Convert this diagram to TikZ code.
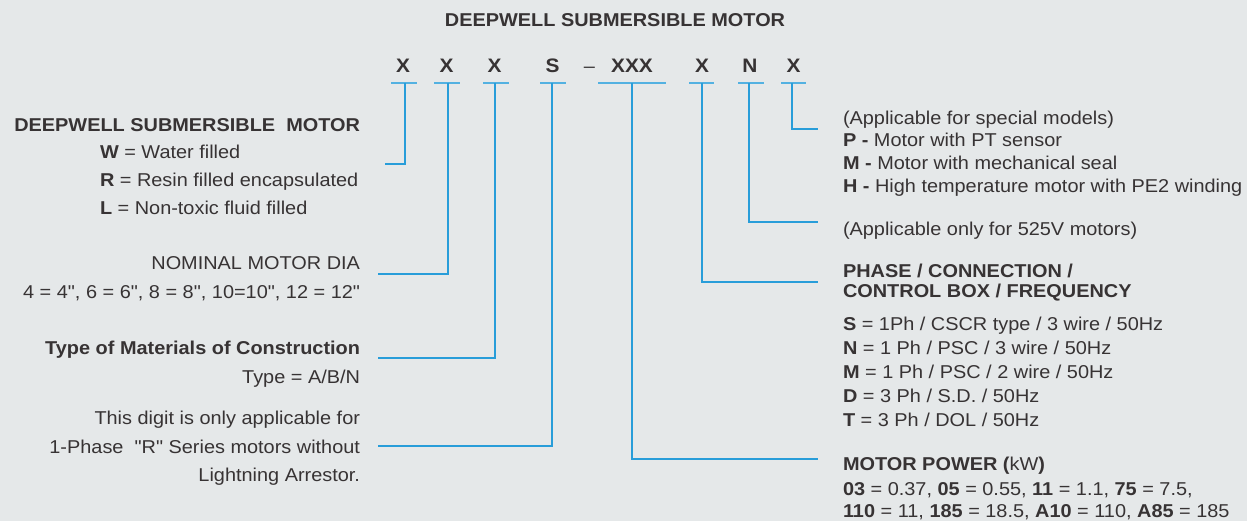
\documentclass[tikz,border=0pt]{standalone}
\usepackage{fontspec}
\setmainfont{Liberation Sans}[FakeStretch=1.07, Ligatures=TeXOff]
\definecolor{bg}{RGB}{229,232,233}
\definecolor{ink}{RGB}{55,51,52}
\definecolor{wire}{RGB}{40,157,217}
\newcommand\fsz{\fontsize{18.6}{23}\selectfont}
\tikzset{
  every node/.style={inner sep=0pt, outer sep=0pt, text=ink, font=\fsz},
  lt/.style={anchor=base west},
  rt/.style={anchor=base east},
  codel/.style={anchor=base, font=\fontsize{19.5}{23}\selectfont\bfseries},
  wireline/.style={draw=wire, line width=1.3pt},
  uline/.style={draw=wire!80, line width=1.3pt},
}
\begin{document}
\begin{tikzpicture}[x=1pt,y=-1pt]
\fill[bg] (0,0) rectangle (1247,521);
\useasboundingbox (0,0) rectangle (1247,521);

% title
\node[anchor=base, font=\fsz\bfseries] (title) at (615,26.5) {DEEPWELL SUBMERSIBLE MOTOR};

% code row
\node[codel] (c1) at (403,72.5) {X};
\node[codel] (c2) at (446.5,72.5) {X};
\node[codel] (c3) at (494.5,72.5) {X};
\node[codel] (c4) at (552.5,72.5) {S};
\node[anchor=base] (dash) at (589.5,72.5) {\textendash};
\node[codel] (c5) at (632,72.5) {XXX};
\node[codel] (c6) at (702,72.5) {X};
\node[codel] (c7) at (750,72.5) {N};
\node[codel] (c8) at (793.5,72.5) {X};

% underline ends
\coordinate (u1a) at (391,83);   \coordinate (u1b) at (417,83);
\coordinate (u2a) at (434,83);   \coordinate (u2b) at (460,83);
\coordinate (u3a) at (483,83);   \coordinate (u3b) at (509,83);
\coordinate (u4a) at (540,83);   \coordinate (u4b) at (566,83);
\coordinate (u5a) at (598,83);   \coordinate (u5b) at (666,83);
\coordinate (u6a) at (689,83);   \coordinate (u6b) at (714,83);
\coordinate (u7a) at (738,83);   \coordinate (u7b) at (764,83);
\coordinate (u8a) at (781,83);   \coordinate (u8b) at (806,83);
\foreach \i in {1,...,8} {\path[uline] (u\i a) -- (u\i b);}

% connector start points (on underlines)
\coordinate (s1) at (405,83);
\coordinate (s2) at (448,83);
\coordinate (s3) at (495,83);
\coordinate (s4) at (552,83);
\coordinate (s5) at (632,83);
\coordinate (s6) at (702,83);
\coordinate (s7) at (749,83);
\coordinate (s8) at (792,83);
% connector end points
\coordinate (e1) at (385,164);
\coordinate (e2) at (378,274);
\coordinate (e3) at (378,358);
\coordinate (e4) at (378,446);
\coordinate (e5) at (818,459);
\coordinate (e6) at (818,282);
\coordinate (e7) at (818,222);
\coordinate (e8) at (818,129);
\foreach \i in {1,...,8} {\path[wireline] (s\i) |- (e\i);}

% left block
\node[rt, font=\fsz\bfseries] (motor) at (360,131.5) {DEEPWELL SUBMERSIBLE\ \ MOTOR};
\node[lt] (w) at (100,158.5) {\textbf{W} = Water filled};
\node[lt] (r) at (100,186.5) {\textbf{R} = Resin filled encapsulated};
\node[lt] (l) at (100,214.5) {\textbf{L} = Non-toxic fluid filled};

\node[rt] (dia) at (360,269.5) {NOMINAL MOTOR DIA};
\node[rt] (diav) at (360,298.5) {4 = 4", 6 = 6", 8 = 8", 10=10", 12 = 12"};

\node[rt, font=\fsz\bfseries] (moc) at (360,354.5) {Type of Materials of Construction};
\node[rt] (mocv) at (360,383.5) {Type = A/B/N};

\node[rt] (dg1) at (360,424.5) {This digit is only applicable for};
\node[rt] (dg2) at (360,453.5) {1-Phase\ \ "R" Series motors without};
\node[rt] (dg3) at (360,481.5) {Lightning Arrestor.};

% right block
\node[lt] (sp0) at (843,124.5) {(Applicable for special models)};
\node[lt] (sp1) at (843,147) {\textbf{P -} Motor with PT sensor};
\node[lt] (sp2) at (843,170) {\textbf{M -} Motor with mechanical seal};
\node[lt] (sp3) at (843,193) {\textbf{H -} High temperature motor with PE2 winding};

\node[lt] (v525) at (843,235.5) {(Applicable only for 525V motors)};

\node[lt, font=\fsz\bfseries] (ph1) at (843,277.5) {PHASE / CONNECTION /};
\node[lt, font=\fsz\bfseries] (ph2) at (843,298) {CONTROL BOX / FREQUENCY};
\node[lt] (phS) at (843,330.5) {\textbf{S} = 1Ph / CSCR type / 3 wire / 50Hz};
\node[lt] (phN) at (843,354.5) {\textbf{N} = 1 Ph / PSC / 3 wire / 50Hz};
\node[lt] (phM) at (843,378) {\textbf{M} = 1 Ph / PSC / 2 wire / 50Hz};
\node[lt] (phD) at (843,402.5) {\textbf{D} = 3 Ph / S.D. / 50Hz};
\node[lt] (phT) at (843,426.5) {\textbf{T} = 3 Ph / DOL / 50Hz};

\node[lt] (pw0) at (843,470.5) {\textbf{MOTOR POWER (}kW\textbf{)}};
\node[lt] (pw1) at (843,495.5) {\textbf{03} = 0.37, \textbf{05} = 0.55, \textbf{11} = 1.1, \textbf{75} = 7.5,};
\node[lt] (pw2) at (843,517.5) {\textbf{110} = 11, \textbf{185} = 18.5, \textbf{A10} = 110, \textbf{A85} = 185};
\end{tikzpicture}
\end{document}
